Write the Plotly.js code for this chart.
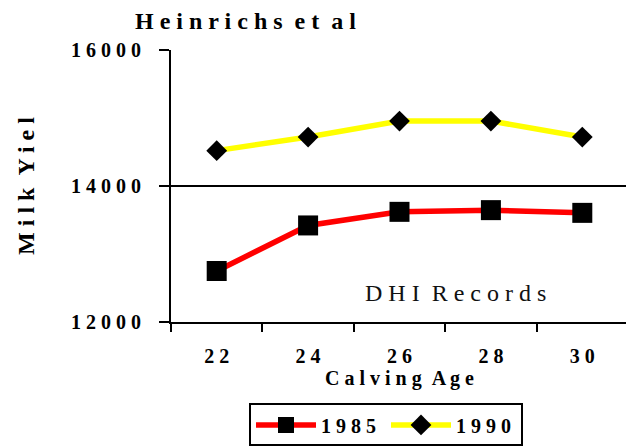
<!DOCTYPE html>
<html>
<head>
<meta charset="utf-8">
<script src="https://cdn.plot.ly/plotly-3.0.1.min.js"></script>
<style>
  html, body { margin: 0; padding: 0; overflow: hidden; background: #fff; }
  #chart { width: 630px; height: 452px; }
</style>
</head>
<body>
<div id="chart"></div>
<script>
// ---- data ----
const categories = ['22', '24', '26', '28', '30'];
const yield1985 = [12750, 13420, 13620, 13645, 13605];
const yield1990 = [14520, 14720, 14955, 14955, 14720];
const seriesNames = ['1985', '1990'];
const yTickVals = [12000, 14000, 16000];
const titleText = 'Heinrichs et al';
const xTitleText = 'Calving Age';
const yTitleText = 'Milk Yiel';
const noteText = 'DHI Records';

// letter-spaced look of the original
function spaced(s) {
  return s.split(' ').map(w => w.split('').join(' ')).join('\u00a0\u00a0');
}

const FONT = 'Liberation Serif';

const traces = [
  {
    x: categories, y: yield1985, name: spaced(seriesNames[0]) + '\u00a0',
    type: 'scatter', mode: 'lines+markers',
    line: { color: '#ff0000', width: 5.5 },
    marker: { symbol: 'square', size: 20, color: '#000000' }
  },
  {
    x: categories, y: yield1990, name: spaced(seriesNames[1]) + '\u00a0',
    type: 'scatter', mode: 'lines+markers',
    line: { color: '#ffff00', width: 5.5 },
    marker: { symbol: 'diamond', size: 16, color: '#000000' }
  }
];

const layout = {
  width: 630, height: 452,
  margin: { l: 171, r: 2, t: 50, b: 130 },
  paper_bgcolor: '#ffffff', plot_bgcolor: '#ffffff',
  font: { family: FONT, color: '#000000' },
  showlegend: true,
  title: {
    text: spaced(titleText),
    font: { family: FONT, size: 24, weight: 'bold', color: '#000' },
    x: 135 / 630, xanchor: 'left', xref: 'container',
    y: 1 - 21 / 452, yanchor: 'middle', yref: 'container'
  },
  xaxis: {
    type: 'category',
    range: [-0.5, 4.5],
    tickson: 'boundaries',
    ticks: 'outside', ticklen: 8, tickwidth: 2, tickcolor: '#000',
    showline: true, linewidth: 2, linecolor: '#000',
    showgrid: false, zeroline: false,
    tickvals: categories, ticktext: categories.map(spaced),
    tickfont: { family: FONT, size: 20, weight: 'bold', color: '#000' },
    ticklabelstandoff: 15,
    title: {
      text: spaced(xTitleText),
      font: { family: FONT, size: 20, weight: 'bold', color: '#000' },
      standoff: 2
    },
    fixedrange: true
  },
  yaxis: {
    range: [12000, 16000],
    tickvals: yTickVals, ticktext: yTickVals.map(v => spaced(String(v))),
    ticks: 'outside', ticklen: 10, tickwidth: 2, tickcolor: '#000',
    showline: true, linewidth: 2, linecolor: '#000',
    showgrid: true, gridcolor: '#000', gridwidth: 2,
    zeroline: false,
    tickfont: { family: FONT, size: 20, weight: 'bold', color: '#000' },
    ticklabelstandoff: 14,
    title: {
      text: spaced(yTitleText),
      font: { family: FONT, size: 24, weight: 'bold', color: '#000' },
      standoff: 30
    },
    fixedrange: true
  },
  legend: {
    orientation: 'h',
    x: (249 - 171) / 457, xanchor: 'left',
    y: (321.7 - 403) / 271.7, yanchor: 'top',
    bordercolor: '#000', borderwidth: 2, bgcolor: '#fff',
    font: { family: FONT, size: 20, weight: 'bold', color: '#000' },
    itemwidth: 60
  },
  annotations: [
    {
      text: spaced(noteText),
      xref: 'paper', yref: 'paper',
      x: (455 - 171) / 457, y: (321.7 - 292.5) / 271.7,
      xanchor: 'center', yanchor: 'middle',
      showarrow: false,
      font: { family: FONT, size: 24, color: '#111' }
    }
  ]
};

Plotly.newPlot('chart', traces, layout, { displayModeBar: false, staticPlot: true });
</script>
</body>
</html>
